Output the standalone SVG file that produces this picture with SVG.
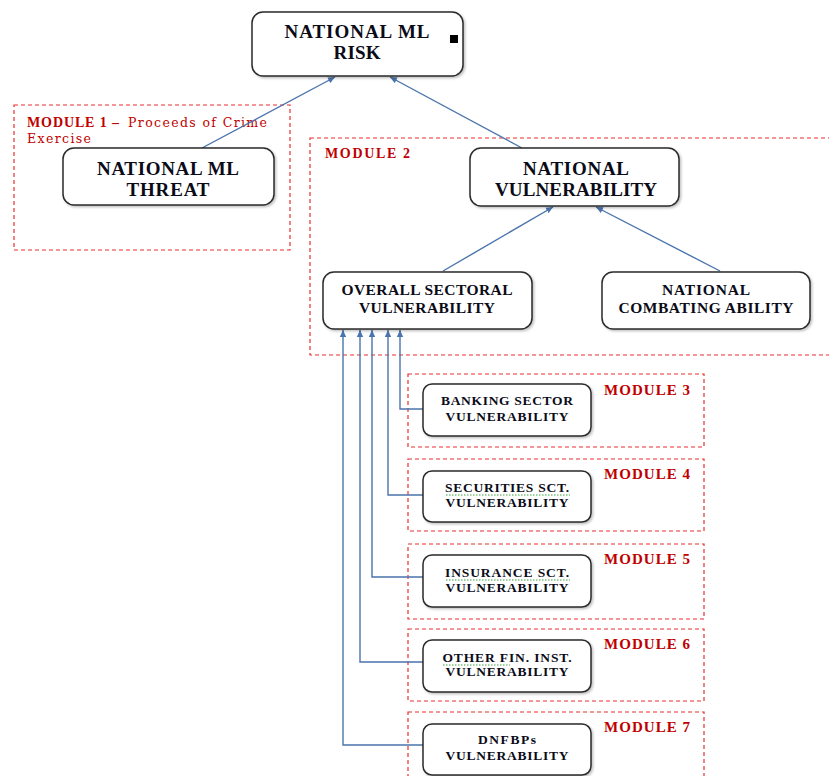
<svg xmlns="http://www.w3.org/2000/svg" width="829" height="776" viewBox="0 0 829 776">
<style>
.node{fill:#fff;stroke:#2a2a2a;stroke-width:1.5;filter:url(#sh)}
.mod{fill:none;stroke:#e8302e;stroke-width:1.2;stroke-dasharray:4 3}
.t{font-family:"Liberation Serif",serif;font-weight:bold;fill:#0b0b18;text-anchor:middle}
.ml{font-family:"Liberation Serif",serif;font-weight:bold;fill:#c00000}
.mn{font-family:"DejaVu Serif","Liberation Serif",serif;fill:#c00000}
.c{fill:none;stroke:#4a74ad;stroke-width:1.4}
.sq{fill:none;stroke:#3aa03a;stroke-width:1;stroke-dasharray:1.5 1.5}
</style>
<defs>
<marker id="ah" markerWidth="8" markerHeight="8" refX="7" refY="4" orient="auto" markerUnits="userSpaceOnUse">
<path d="M0,0.8 L7,4 L0,7.2 Z" fill="#4a74ad"/>
</marker>
<filter id="sh" x="-10%" y="-10%" width="120%" height="130%">
<feDropShadow dx="1.5" dy="1.5" stdDeviation="1" flood-color="#000" flood-opacity="0.25"/>
</filter>
</defs>

<g id="module1">
<rect class="mod" x="14" y="105" width="276" height="145"/>
<text x="27" y="127"><tspan class="ml" font-size="14" textLength="92">MODULE 1 –</tspan><tspan class="mn" font-size="12.5" x="128" textLength="139">Proceeds of Crime</tspan></text>
<text class="mn" x="27" y="143" font-size="12.5" textLength="64">Exercise</text>
</g>
<g id="module2">
<rect class="mod" x="310" y="138" width="540" height="217"/>
<text class="ml" x="325" y="158" font-size="14" textLength="85">MODULE 2</text>
</g>
<g id="module3">
<rect class="mod" x="408" y="374" width="296" height="73"/>
<text class="ml" x="604" y="395" font-size="15" textLength="86">MODULE 3</text>
</g>
<g id="module4">
<rect class="mod" x="408" y="459" width="296" height="72"/>
<text class="ml" x="604" y="479" font-size="15" textLength="86">MODULE 4</text>
</g>
<g id="module5">
<rect class="mod" x="408" y="544" width="296" height="75"/>
<text class="ml" x="604" y="564" font-size="15" textLength="86">MODULE 5</text>
</g>
<g id="module6">
<rect class="mod" x="408" y="629" width="296" height="72"/>
<text class="ml" x="604" y="649" font-size="15" textLength="86">MODULE 6</text>
</g>
<g id="module7">
<rect class="mod" x="408" y="712" width="296" height="80"/>
<text class="ml" x="604" y="732" font-size="15" textLength="86">MODULE 7</text>
</g>

<g id="connectors">
<path class="c" d="M202,148 L335,77" marker-end="url(#ah)"/>
<path class="c" d="M522,148 L390,77" marker-end="url(#ah)"/>
<path class="c" d="M443,271 L553,207" marker-end="url(#ah)"/>
<path class="c" d="M720,271 L596,207" marker-end="url(#ah)"/>
<path class="c" d="M423,409 H400 V330" marker-end="url(#ah)"/>
<path class="c" d="M423,495 H388 V330" marker-end="url(#ah)"/>
<path class="c" d="M423,577 H372 V330" marker-end="url(#ah)"/>
<path class="c" d="M423,662 H360 V330" marker-end="url(#ah)"/>
<path class="c" d="M423,745 H343 V330" marker-end="url(#ah)"/>
</g>

<g id="national-ml-risk">
<rect class="node" x="252" y="12" width="211" height="64" rx="11"/>
<text class="t" x="357" y="38" font-size="19" textLength="145">NATIONAL ML</text>
<text class="t" x="357" y="59" font-size="19" textLength="47">RISK</text>
<rect x="450" y="35" width="8" height="8" fill="#000"/>
</g>
<g id="national-ml-threat">
<rect class="node" x="63" y="148" width="211" height="57" rx="11"/>
<text class="t" x="168" y="175" font-size="19" textLength="142">NATIONAL ML</text>
<text class="t" x="168" y="196" font-size="19" textLength="83">THREAT</text>
</g>
<g id="national-vulnerability">
<rect class="node" x="470" y="148" width="209" height="58" rx="11"/>
<text class="t" x="576" y="175" font-size="19" textLength="106">NATIONAL</text>
<text class="t" x="576" y="196" font-size="19" textLength="162">VULNERABILITY</text>
</g>
<g id="overall-sectoral">
<rect class="node" x="323" y="272" width="209" height="57" rx="11"/>
<text class="t" x="427" y="295" font-size="15.5" textLength="171">OVERALL SECTORAL</text>
<text class="t" x="427" y="313" font-size="15.5" textLength="136">VULNERABILITY</text>
</g>
<g id="national-combating">
<rect class="node" x="602" y="272" width="208" height="57" rx="11"/>
<text class="t" x="706" y="295" font-size="15.5" textLength="88">NATIONAL</text>
<text class="t" x="706" y="313" font-size="15.5" textLength="175">COMBATING ABILITY</text>
</g>
<g id="banking">
<rect class="node" x="423" y="384" width="168" height="52" rx="9"/>
<text class="t" x="507" y="405" font-size="13.5" textLength="132">BANKING SECTOR</text>
<text class="t" x="507" y="421" font-size="13.5" textLength="123">VULNERABILITY</text>
</g>
<g id="securities">
<rect class="node" x="423" y="471" width="168" height="51" rx="9"/>
<text class="t" x="507" y="492" font-size="13.5" textLength="124">SECURITIES SCT.</text>
<path class="sq" d="M446,495 H570"/>
<text class="t" x="507" y="507" font-size="13.5" textLength="123">VULNERABILITY</text>
</g>
<g id="insurance">
<rect class="node" x="423" y="555" width="168" height="52" rx="9"/>
<text class="t" x="507" y="577" font-size="13.5" textLength="124">INSURANCE SCT.</text>
<path class="sq" d="M446,580 H570"/>
<text class="t" x="507" y="592" font-size="13.5" textLength="123">VULNERABILITY</text>
</g>
<g id="other-fin">
<rect class="node" x="423" y="640" width="168" height="52" rx="9"/>
<text class="t" x="507" y="662" font-size="13.5" textLength="129">OTHER FIN. INST.</text>
<path class="sq" d="M443,665 H510"/>
<text class="t" x="507" y="676" font-size="13.5" textLength="123">VULNERABILITY</text>
</g>
<g id="dnfbps">
<rect class="node" x="423" y="724" width="168" height="51" rx="9"/>
<text class="t" x="507" y="744" font-size="13.5" textLength="58">DNFBPs</text>
<text class="t" x="507" y="760" font-size="13.5" textLength="123">VULNERABILITY</text>
</g>
</svg>
